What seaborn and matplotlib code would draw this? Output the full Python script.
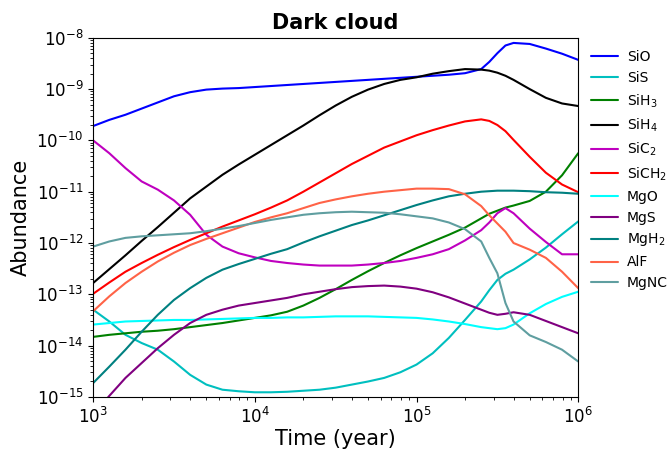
import numpy as np
import pandas as pd
import matplotlib
matplotlib.use("Agg")
import matplotlib.pyplot as plt
from matplotlib.ticker import LogLocator, NullFormatter
import seaborn as sns

# log10 of time in years
log_time = [3.0, 3.1, 3.2, 3.3, 3.4, 3.5, 3.6, 3.7, 3.8, 3.9, 4.0,
            4.1, 4.2, 4.3, 4.4, 4.5, 4.6, 4.7, 4.8, 4.9, 5.0,
            5.1, 5.2, 5.3, 5.4, 5.45, 5.5, 5.55, 5.6, 5.7, 5.8, 5.9, 6.0]

# log10 fractional abundances
SiO = [-9.72, -9.60, -9.50, -9.38, -9.26, -9.14, -9.06, -9.01, -8.99, -8.98, -8.96,
       -8.94, -8.92, -8.90, -8.88, -8.86, -8.84, -8.82, -8.80, -8.78, -8.76,
       -8.74, -8.72, -8.69, -8.61, -8.47, -8.30, -8.15, -8.10, -8.12, -8.21, -8.31, -8.43]
SiS = [-13.30, -13.53, -13.79, -13.95, -14.08, -14.31, -14.57, -14.76, -14.86, -14.89, -14.91,
       -14.91, -14.90, -14.88, -14.86, -14.82, -14.76, -14.70, -14.63, -14.52, -14.37,
       -14.15, -13.85, -13.50, -13.14, -12.92, -12.72, -12.60, -12.52, -12.32, -12.09, -11.83, -11.58]
SiH3 = [-13.83, -13.79, -13.76, -13.73, -13.71, -13.68, -13.64, -13.60, -13.56, -13.51, -13.46,
        -13.41, -13.34, -13.22, -13.07, -12.90, -12.72, -12.55, -12.39, -12.24, -12.10,
        -11.97, -11.84, -11.70, -11.52, -11.43, -11.37, -11.31, -11.27, -11.18, -11.00, -10.68, -10.25]
SiH4 = [-12.78, -12.51, -12.24, -11.96, -11.69, -11.41, -11.13, -10.90, -10.67, -10.47, -10.28,
        -10.09, -9.90, -9.71, -9.51, -9.32, -9.15, -9.01, -8.90, -8.82, -8.77,
        -8.70, -8.65, -8.61, -8.62, -8.64, -8.68, -8.74, -8.82, -9.00, -9.17, -9.28, -9.33]
SiC2 = [-10.00, -10.25, -10.54, -10.80, -10.96, -11.17, -11.45, -11.84, -12.07, -12.20, -12.28,
        -12.35, -12.39, -12.42, -12.44, -12.44, -12.44, -12.42, -12.39, -12.35, -12.29,
        -12.22, -12.12, -11.95, -11.75, -11.60, -11.42, -11.32, -11.42, -11.72, -11.98, -12.22, -12.22]
SiCH2 = [-12.99, -12.77, -12.56, -12.39, -12.23, -12.08, -11.94, -11.81, -11.68, -11.56, -11.44,
         -11.31, -11.17, -11.00, -10.82, -10.64, -10.46, -10.30, -10.14, -10.02, -9.90,
         -9.80, -9.71, -9.63, -9.59, -9.62, -9.70, -9.82, -9.99, -10.32, -10.63, -10.86, -11.01]
MgO = [-13.59, -13.56, -13.53, -13.52, -13.51, -13.50, -13.50, -13.49, -13.48, -13.47, -13.46,
       -13.46, -13.45, -13.45, -13.44, -13.43, -13.43, -13.43, -13.44, -13.45, -13.46,
       -13.49, -13.53, -13.58, -13.64, -13.66, -13.68, -13.66, -13.59, -13.37, -13.19, -13.05, -12.95]
MgS = [-15.35, -14.98, -14.63, -14.34, -14.05, -13.79, -13.56, -13.40, -13.30, -13.22, -13.17,
       -13.12, -13.07, -13.00, -12.95, -12.90, -12.86, -12.84, -12.83, -12.85, -12.89,
       -12.96, -13.06, -13.18, -13.30, -13.36, -13.40, -13.38, -13.35, -13.40, -13.52, -13.64, -13.76]
MgH2 = [-14.73, -14.41, -14.08, -13.73, -13.40, -13.11, -12.88, -12.68, -12.52, -12.41, -12.31,
        -12.21, -12.12, -11.99, -11.87, -11.76, -11.65, -11.56, -11.46, -11.36, -11.26,
        -11.17, -11.09, -11.04, -11.00, -10.99, -10.98, -10.98, -10.98, -10.99, -11.01, -11.02, -11.04]
AlF = [-13.33, -13.04, -12.78, -12.56, -12.36, -12.19, -12.04, -11.92, -11.81, -11.70, -11.59,
       -11.50, -11.42, -11.32, -11.22, -11.15, -11.09, -11.04, -11.00, -10.97, -10.94,
       -10.94, -10.95, -11.05, -11.28, -11.46, -11.62, -11.78, -12.00, -12.13, -12.29, -12.56, -12.88]
MgNC = [-12.07, -11.97, -11.90, -11.87, -11.85, -11.83, -11.81, -11.77, -11.72, -11.67, -11.61,
        -11.55, -11.50, -11.45, -11.42, -11.40, -11.39, -11.40, -11.41, -11.44, -11.48,
        -11.52, -11.60, -11.73, -11.97, -12.29, -12.59, -13.17, -13.53, -13.80, -13.93, -14.08, -14.31]

species = ["SiO", "SiS", "SiH$_3$", "SiH$_4$", "SiC$_2$", "SiCH$_2$",
           "MgO", "MgS", "MgH$_2$", "AlF", "MgNC"]
series = [SiO, SiS, SiH3, SiH4, SiC2, SiCH2, MgO, MgS, MgH2, AlF, MgNC]
colors = ["blue", "c", "green", "black", "m", "red",
          "cyan", "purple", "teal", "tomato", "cadetblue"]

frames = []
for name, vals in zip(species, series):
    frames.append(pd.DataFrame({
        "time": 10.0 ** np.array(log_time),
        "abundance": 10.0 ** np.array(vals),
        "species": name,
    }))
df = pd.concat(frames, ignore_index=True)

sns.set_style("ticks")
plt.rcParams.update({
    "font.family": ["DejaVu Sans"],
    "text.color": "black",
    "axes.labelcolor": "black",
    "axes.edgecolor": "black",
    "xtick.color": "black",
    "ytick.color": "black",
})

fig = plt.figure(figsize=(6.7, 4.5), dpi=100)
ax = fig.add_axes([0.139, 0.118, 0.724, 0.798])

sns.lineplot(data=df, x="time", y="abundance", hue="species",
             hue_order=species, palette=dict(zip(species, colors)),
             estimator=None, sort=True, linewidth=1.5, ax=ax)

ax.set_xscale("log")
ax.set_yscale("log")
ax.set_xlim(1e3, 1e6)
ax.set_ylim(1e-15, 1e-8)
for axis in (ax.xaxis, ax.yaxis):
    axis.set_major_locator(LogLocator(base=10, numticks=20))
    axis.set_minor_locator(LogLocator(base=10, subs=np.arange(2, 10), numticks=100))
    axis.set_minor_formatter(NullFormatter())

ax.set_title("Dark cloud", fontsize=15, fontweight="bold")
ax.set_xlabel("Time (year)", fontsize=15, labelpad=1.5)
ax.set_ylabel("Abundance", fontsize=15)
ax.tick_params(axis="both", which="major", labelsize=12, length=3.5, width=0.8,
               direction="out")
ax.tick_params(axis="both", which="minor", length=2, width=0.6, direction="out",
               bottom=True, left=True)
for s in ax.spines.values():
    s.set_color("black")
    s.set_linewidth(0.8)

ax.legend(loc="upper left", bbox_to_anchor=(1.0, 1.0), frameon=False,
          fontsize=10, handlelength=2.0, handletextpad=0.6)

fig.savefig("out.png", dpi=100)
